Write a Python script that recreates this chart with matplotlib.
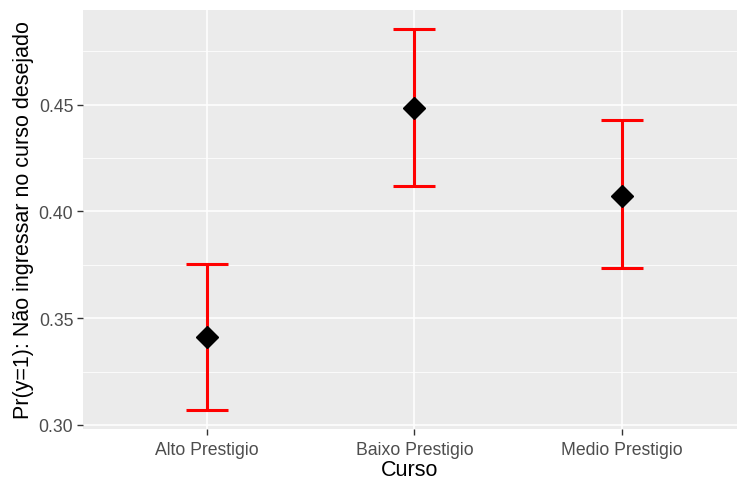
import matplotlib
matplotlib.use("Agg")
import matplotlib.pyplot as plt
from matplotlib.ticker import MultipleLocator

# Predicted probabilities by course prestige, with confidence limits
categories = ["Alto Prestigio", "Baixo Prestigio", "Medio Prestigio"]
prob = [0.3411, 0.4484, 0.4074]
lower = [0.3070, 0.4120, 0.3734]
upper = [0.3754, 0.4854, 0.4428]

plt.rcParams["font.family"] = ["Liberation Sans", "DejaVu Sans"]

W, H = 737, 481
fig = plt.figure(figsize=(W / 100, H / 100), dpi=100)
ax = fig.add_axes([83 / W, 1 - 430 / H, (W - 83) / W, (430 - 11) / H])

bg = "#EBEBEB"
ax.set_facecolor(bg)
for s in ax.spines.values():
    s.set_visible(False)

x = list(range(1, len(categories) + 1))
yerr = [[p - lo for p, lo in zip(prob, lower)], [up - p for p, up in zip(prob, upper)]]

ax.errorbar(x, prob, yerr=yerr, fmt="none", ecolor="#FF0000", elinewidth=2.2,
            capsize=14.9, capthick=2.2, zorder=3)
ax.plot(x, prob, linestyle="none", marker="D", markersize=11.5,
        color="black", zorder=4)

ax.set_xlim(0.4, 3.557)
ax.set_ylim(0.2981, 0.4943)
ax.set_xticks(x)
ax.set_xticklabels(categories)
ax.yaxis.set_major_locator(MultipleLocator(0.05))
ax.yaxis.set_minor_locator(MultipleLocator(0.025))
ax.yaxis.set_major_formatter(matplotlib.ticker.FormatStrFormatter("%.2f"))

ax.grid(True, which="major", color="white", linewidth=1.1)
ax.grid(True, which="minor", axis="y", color="white", linewidth=0.55)
ax.set_axisbelow(True)

ax.tick_params(axis="both", which="major", length=4, width=1.0, color="#333333",
               labelcolor="#4D4D4D", labelsize=12.7, pad=3)
ax.tick_params(axis="x", which="major", pad=4.5)
ax.tick_params(axis="y", which="minor", length=0)

ax.set_xlabel("Curso", fontsize=15.5, color="black", labelpad=1.0)
ax.set_ylabel("Pr(y=1): Não ingressar no curso desejado", fontsize=15.5,
              color="black", labelpad=3)

fig.savefig("out.png", dpi=100)
